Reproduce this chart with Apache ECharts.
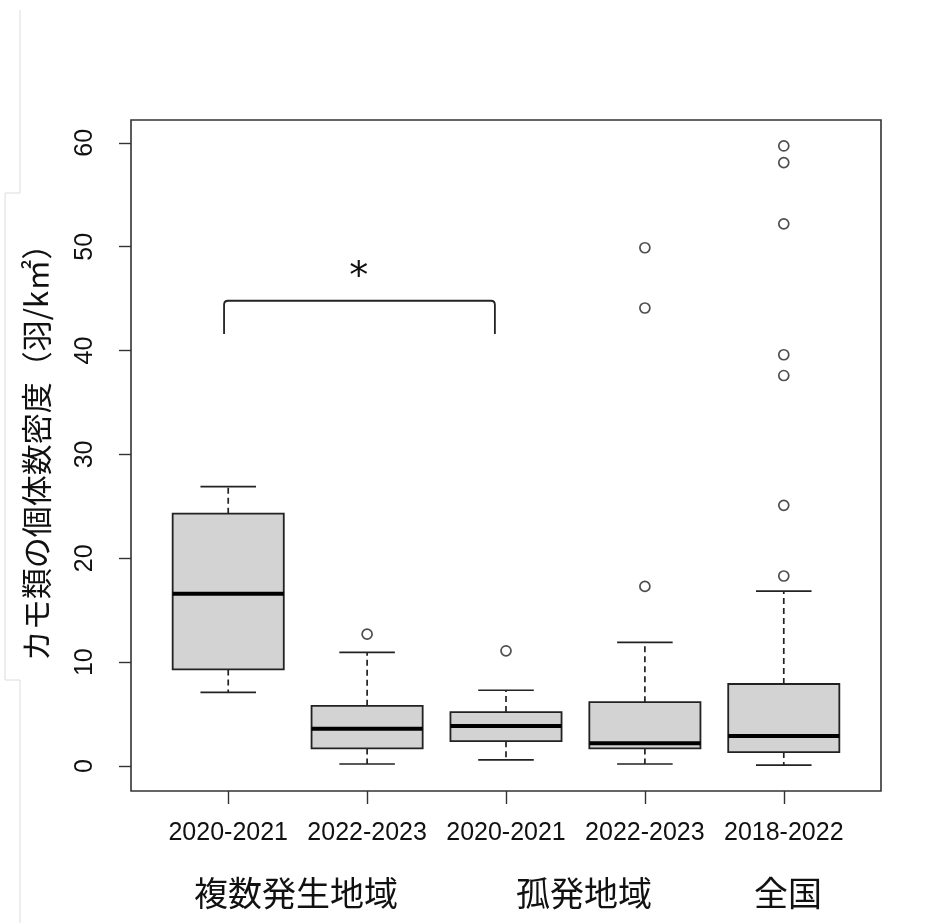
<!DOCTYPE html>
<html><head><meta charset="utf-8">
<script src="https://cdn.jsdelivr.net/npm/echarts@6/dist/echarts.min.js"></script>
<style>html,body{margin:0;padding:0;background:#fff}#c{width:928px;height:923px}</style>
</head><body><div id="c"></div>
<script>
// ---- data ----
const categories = ['2020-2021', '2022-2023', '2020-2021', '2022-2023', '2018-2022'];
const groupLabels = ['複数発生地域', '孤発地域', '全国'];
const yTitle = 'カモ類の個体数密度（羽/k㎡）';
const lowerWhisker = [7.1, 0.2, 0.6, 0.2, 0.1];
const q1 = [9.3, 1.7, 2.4, 1.7, 1.35];
const median = [16.6, 3.6, 3.85, 2.2, 2.9];
const q3 = [24.3, 5.8, 5.2, 6.15, 7.9];
const upperWhisker = [26.9, 10.95, 7.3, 11.9, 16.85];
const outliers = [[], [12.7], [11.1], [49.9, 44.1, 17.3], [59.7, 58.1, 52.2, 39.6, 37.6, 25.1, 18.3]];
const yTicks = [0, 10, 20, 30, 40, 50, 60];
const xTicks = [1, 2, 3, 4, 5];
const bracketX = [0.97, 2.92];
const bracketY = [41.6, 44.8];
const sigMark = '*';
const sigPos = [1.94, 47.0];

// ---- chart ----
const NUMFONT = "'Liberation Sans', Arial, sans-serif";
const CJK = "'Noto Sans CJK JP', sans-serif";
const INK = '#111';
const chart = echarts.init(document.getElementById('c'), null, {renderer: 'canvas'});

const boxData = categories.map((c, i) => [i + 1, lowerWhisker[i], q1[i], median[i], q3[i], upperWhisker[i]]);
const outlierData = [];
outliers.forEach((arr, i) => arr.forEach(v => outlierData.push([i + 1, v])));

function renderBox(params, api) {
  const x = api.value(0);
  const lo = api.coord([x, api.value(1)]);
  const b1 = api.coord([x, api.value(2)]);
  const md = api.coord([x, api.value(3)]);
  const b3 = api.coord([x, api.value(4)]);
  const hi = api.coord([x, api.value(5)]);
  const half = api.size([0.8, 0])[0] / 2;
  const cap = half / 2;
  const cx = lo[0];
  const line = (x1, y1, x2, y2, style) => ({type: 'line', shape: {x1, y1, x2, y2}, style});
  const dash = {stroke: '#222', lineWidth: 1.7, lineDash: [6, 4]};
  const solid = {stroke: '#222', lineWidth: 1.7};
  return {type: 'group', children: [
    line(cx, b3[1], cx, hi[1], dash),
    line(cx, b1[1], cx, lo[1], dash),
    line(cx - cap, hi[1], cx + cap, hi[1], solid),
    line(cx - cap, lo[1], cx + cap, lo[1], solid),
    {type: 'rect', shape: {x: cx - half, y: b3[1], width: half * 2, height: b1[1] - b3[1]},
     style: {fill: '#d3d3d3', stroke: '#222', lineWidth: 1.8}},
    line(cx - half, md[1], cx + half, md[1], {stroke: '#000', lineWidth: 4})
  ]};
}

function renderBracket(params, api) {
  const p1 = api.coord([api.value(0), api.value(2)]);
  const p2 = api.coord([api.value(0), api.value(3)]);
  const p3 = api.coord([api.value(1), api.value(3)]);
  const p4 = api.coord([api.value(1), api.value(2)]);
  const r = 4;
  const d = `M ${p1[0]} ${p1[1]} L ${p2[0]} ${p2[1] + r} Q ${p2[0]} ${p2[1]} ${p2[0] + r} ${p2[1]} ` +
            `L ${p3[0] - r} ${p3[1]} Q ${p3[0]} ${p3[1]} ${p3[0]} ${p3[1] + r} L ${p4[0]} ${p4[1]}`;
  const s = api.coord([api.value(4), api.value(5)]);
  return {type: 'group', children: [
    {type: 'path', shape: {pathData: d}, style: {stroke: '#222', lineWidth: 1.8, fill: null}},
    {type: 'text', x: s[0], y: s[1], style: {text: sigMark, font: "38px 'DejaVu Sans', sans-serif",
      fill: INK, align: 'center', verticalAlign: 'middle'}}
  ]};
}

const option = {
  backgroundColor: '#fff',
  animation: false,
  grid: {left: 131, right: 47, top: 120, bottom: 132, show: true, borderColor: '#333', borderWidth: 1.6,
         backgroundColor: 'transparent'},
  xAxis: {
    type: 'value', min: 0.3, max: 5.7, position: 'bottom',
    splitLine: {show: false}, axisLine: {show: false, onZero: false},
    axisTick: {show: true, length: 13, customValues: xTicks, lineStyle: {color: '#333', width: 1.4}},
    axisLabel: {customValues: xTicks, formatter: v => categories[Math.round(v) - 1],
      fontSize: 25, fontFamily: NUMFONT, color: INK, margin: 30, lineHeight: 25}
  },
  yAxis: {
    type: 'value', min: -2.4, max: 62.2, position: 'left',
    splitLine: {show: false}, axisLine: {show: false, onZero: false},
    axisTick: {show: true, length: 12, customValues: yTicks, lineStyle: {color: '#333', width: 1.4}},
    axisLabel: {customValues: yTicks, rotate: 90, fontSize: 25, fontFamily: NUMFONT, color: INK, margin: 33}
  },
  series: [
    {type: 'custom', renderItem: renderBox, data: boxData, encode: {x: 0, y: [1, 2, 3, 4, 5]}, z: 2},
    {type: 'scatter', data: outlierData, symbol: 'circle', symbolSize: 10,
     itemStyle: {color: 'rgba(0,0,0,0)', borderColor: '#222', borderWidth: 1.7}, z: 3},
    {type: 'custom', renderItem: renderBracket,
     data: [[bracketX[0], bracketX[1], bracketY[0], bracketY[1], sigPos[0], sigPos[1]]],
     encode: {x: [0, 1], y: [2, 3]}, z: 3}
  ],
  graphic: [
    {type: 'polyline', shape: {points: [[20, 10], [20, 193], [5, 193], [5, 680], [20, 680], [20, 923]]},
     style: {stroke: '#dcdcdc', lineWidth: 1, fill: null}, silent: true},
    {type: 'text', x: 36, y: 445, rotation: Math.PI / 2,
     style: {text: yTitle, font: "31px " + CJK, fill: INK, align: 'center', verticalAlign: 'middle'}},
    {type: 'text', x: 296, y: 893, style: {text: groupLabels[0], font: "34px " + CJK, fill: INK, align: 'center', verticalAlign: 'middle'}},
    {type: 'text', x: 584, y: 893, style: {text: groupLabels[1], font: "34px " + CJK, fill: INK, align: 'center', verticalAlign: 'middle'}},
    {type: 'text', x: 788, y: 893, style: {text: groupLabels[2], font: "34px " + CJK, fill: INK, align: 'center', verticalAlign: 'middle'}}
  ]
};
chart.setOption(option);
</script>
</body></html>
